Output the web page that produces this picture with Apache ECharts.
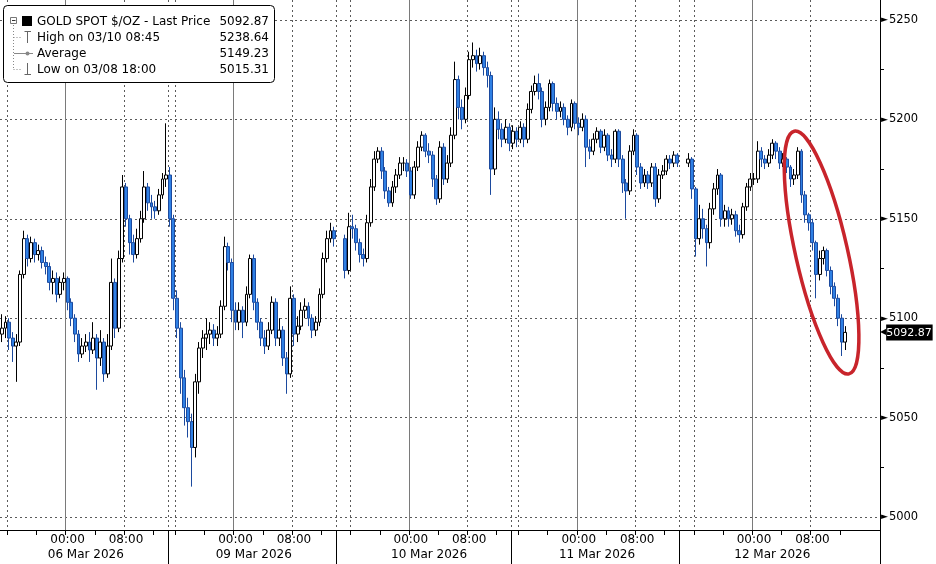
<!DOCTYPE html>
<html><head><meta charset="utf-8">
<script src="https://cdn.jsdelivr.net/npm/echarts@6/dist/echarts.min.js"></script>
<style>html,body{margin:0;padding:0;background:#fff}#c{width:936px;height:564px}</style>
</head><body><div id="c"></div>
<script>
// ---- sessions of 30-minute bars (chart local time), [first bar, number of slots]
const sessions = [
  ['2026-03-05 15:00', 46],
  ['2026-03-08 15:00', 48],
  ['2026-03-09 15:00', 46],
  ['2026-03-10 15:00', 48],
  ['2026-03-11 15:00', 44]
];
const padSlots = 9;
const firstOpen = 5092;

const closes = [
5095,5098,5090,5086,5088,5122,5140,5130,5138,5132,
5134,5128,5126,5118,5120,5112,5118,5120,5108,5100,
5092,5082,5086,5088,5084,5090,5080,5088,5072,5086,
5118,5095,5130,5166,5150,5138,5132,5140,5150,5166,
5158,5156,5154,5162,5170,5172,5150,5110,5095,5070,
5055,5048,5035,5068,5085,5090,5092,5094,5090,5092,
5106,5136,5128,5104,5098,5104,5098,5112,5130,5108,
5098,5090,5086,5094,5108,5090,5094,5080,5072,5110,
5092,5096,5104,5106,5100,5094,5098,5112,5130,5140,
5144,5140,null,null,5124,5146,5145,5138,5132,5130,
5148,5166,5180,5184,5174,5164,5158,5166,5172,5178,
5178,5174,5162,5176,5186,5192,5184,5182,5170,5160,
5186,5170,5178,5192,5220,5206,5200,5212,5230,5232,
5228,5232,5226,5222,5175,5200,5195,5190,5196,5188,
5194,5190,5196,5190,5205,5214,5218,5214,5200,5206,
5218,5208,5204,5206,5200,5196,5208,5198,5196,5200,
5186,5184,5190,5194,5186,5192,5182,5180,5194,5180,
5168,5164,5184,5192,5176,5168,5172,5168,5176,5160,
5172,5174,5180,5178,5182,5178,null,null,5180,5165,
5140,5150,5145,5138,5155,5165,5172,5150,5154,5150,
5152,5144,5142,5156,5166,5170,5170,5184,5180,5178,
5182,5188,5184,5178,5180,5176,5170,5172,5184,5162,
5152,5148,5138,5122,5130,5134,5124,5116,5110,5100,
5088,5092.87
];
const highs = [
5102,5101,5100,5093,5092,5124,5144,5142,5141,5140,
5137,5136,5131,5128,5124,5123,5121,5123,5121,5110,
5102,5094,5090,5092,5093,5098,5092,5094,5090,5092,
5130,5120,5134,5172,5168,5152,5142,5145,5154,5174,
5168,5162,5159,5165,5173,5198,5176,5152,5114,5098,
5074,5060,5052,5072,5088,5094,5100,5098,5097,5096,
5109,5141,5138,5130,5108,5108,5106,5116,5132,5132,
5110,5100,5094,5098,5111,5110,5100,5096,5083,5116,
5112,5101,5108,5110,5108,5102,5101,5115,5133,5144,
5148,5146,null,null,5142,5153,5152,5147,5140,5135,
5152,5170,5184,5186,5186,5176,5166,5169,5175,5181,
5181,5180,5176,5179,5189,5194,5193,5188,5184,5172,
5189,5188,5182,5196,5229,5222,5210,5216,5234,5238.64,
5235,5236,5234,5229,5224,5206,5204,5198,5200,5198,
5197,5196,5199,5198,5208,5217,5222,5223,5216,5209,
5220,5219,5211,5209,5208,5202,5210,5209,5201,5203,
5202,5190,5193,5196,5195,5195,5193,5185,5195,5195,
5182,5170,5187,5195,5193,5178,5175,5174,5178,5178,
5175,5177,5182,5182,5184,5183,null,null,5183,5181,
5166,5157,5155,5147,5158,5168,5175,5173,5157,5156,
5155,5154,5147,5158,5168,5173,5173,5189,5186,5182,
5185,5190,5189,5186,5183,5181,5177,5175,5186,5185,
5164,5153,5150,5139,5134,5136,5135,5126,5118,5112,
5102,5096
];
const lows = [
5088,5090,5084,5078,5068,5086,5120,5126,5128,5128,
5129,5125,5122,5114,5112,5108,5110,5114,5104,5096,
5088,5078,5080,5083,5078,5082,5064,5076,5068,5070,
5084,5090,5093,5128,5146,5132,5128,5130,5138,5148,
5154,5150,5150,5152,5160,5166,5146,5104,5090,5062,
5046,5040,5015.31,5030,5062,5080,5084,5087,5086,5086,
5090,5104,5124,5098,5094,5094,5090,5096,5110,5104,
5094,5086,5082,5084,5092,5086,5086,5076,5062,5070,
5086,5088,5094,5100,5096,5090,5091,5096,5110,5128,
5138,5136,null,null,5120,5122,5140,5134,5128,5126,
5128,5146,5164,5178,5170,5160,5156,5156,5163,5170,
5174,5171,5160,5160,5174,5184,5181,5178,5166,5157,
5158,5167,5168,5176,5190,5200,5195,5198,5210,5226,
5224,5225,5222,5216,5162,5172,5190,5186,5188,5184,
5185,5186,5188,5186,5188,5203,5212,5210,5196,5197,
5204,5204,5200,5201,5197,5192,5194,5195,5192,5194,
5176,5180,5182,5188,5183,5184,5179,5176,5178,5176,
5163,5150,5162,5182,5172,5165,5166,5165,5166,5156,
5158,5170,5172,5175,5176,5176,null,null,5176,5160,
5131,5137,5140,5126,5135,5152,5162,5146,5146,5146,
5147,5141,5138,5140,5154,5164,5167,5168,5176,5175,
5176,5180,5180,5175,5176,5173,5166,5167,5170,5158,
5148,5144,5134,5110,5119,5127,5121,5112,5106,5096,
5081,5084
];

const legendRows = ['GOLD SPOT $/OZ - Last Price', 'High on 03/10 08:45', 'Average', 'Low on 03/08 18:00'];
const legendValues = ['5092.87', '5238.64', '5149.23', '5015.31'];
// annotation ring: ends of its long axis in data coordinates [slot, price]
const ringTop = [217, 5194];
const ringBottom = [232, 5072];

const MONTHS = ['Jan','Feb','Mar','Apr','May','Jun','Jul','Aug','Sep','Oct','Nov','Dec'];
const FONT = 'DejaVu Sans';
const p2 = n => (n < 10 ? '0' : '') + n;
function fmt(t) {
  const d = new Date(t);
  return d.getUTCFullYear() + '-' + p2(d.getUTCMonth() + 1) + '-' + p2(d.getUTCDate()) + ' ' + p2(d.getUTCHours()) + ':' + p2(d.getUTCMinutes());
}
const cats = [];
const sessionStart = new Set();
sessions.forEach(([start, n]) => {
  let t = Date.parse(start.replace(' ', 'T') + ':00Z');
  sessionStart.add(cats.length);
  for (let k = 0; k < n; k++) { cats.push(fmt(t)); t += 30 * 60000; }
});
for (let k = 0; k < padSlots; k++) cats.push('');
const hm = v => (v ? v.slice(11) : '');
const dateLabel = v => { const [y, m, d] = v.slice(0, 10).split('-'); return d + ' ' + MONTHS[+m - 1] + ' ' + y; };
const sepSet = new Set();
cats.forEach((v, i) => {
  if (!v) return;
  if (hm(v) === '14:00') sepSet.add(i);
  else if (sessionStart.has(i) && i > 0 && hm(cats[i - 1]) !== '14:30') sepSet.add(i);
});
const isFourHour = v => { if (!v) return false; const h = +v.slice(11, 13), m = v.slice(14); return m === '00' && h % 4 === 0; };

let prev = firstOpen;
const ohlc = closes.map((c, i) => {
  if (c == null) return '-';
  const o = prev; prev = c;
  return [o, c, lows[i], highs[i]];
});
const lastClose = closes[closes.length - 1];

const rowY = [21.5, 37.5, 53.5, 69.5];
const graphics = [
  { id: 'box', type: 'rect', z: 100, shape: { x: 3.5, y: 5.5, width: 271, height: 77, r: 4 }, style: { fill: '#fff', stroke: '#000', lineWidth: 1 } },
  { id: 'tv', type: 'line', z: 101, shape: { x1: 13.5, y1: 25, x2: 13.5, y2: 69.5 }, style: { stroke: '#888', lineWidth: 1, lineDash: [1, 2] } },
  { id: 'th2', type: 'line', z: 101, shape: { x1: 13.5, y1: 37.5, x2: 21, y2: 37.5 }, style: { stroke: '#888', lineWidth: 1, lineDash: [1, 2] } },
  { id: 'th4', type: 'line', z: 101, shape: { x1: 13.5, y1: 69.5, x2: 21, y2: 69.5 }, style: { stroke: '#888', lineWidth: 1, lineDash: [1, 2] } },
  { id: 'coll', type: 'rect', z: 101, shape: { x: 10.5, y: 17.5, width: 6, height: 6 }, style: { fill: '#fff', stroke: '#777', lineWidth: 1 } },
  { id: 'collm', type: 'line', z: 102, shape: { x1: 12, y1: 20.5, x2: 15.5, y2: 20.5 }, style: { stroke: '#333', lineWidth: 1 } },
  { id: 'sq', type: 'rect', z: 101, shape: { x: 22, y: 16, width: 10, height: 10 }, style: { fill: '#000' } },
  { id: 'hiv', type: 'line', z: 101, shape: { x1: 27.5, y1: 31, x2: 27.5, y2: 43 }, style: { stroke: '#666', lineWidth: 1 } },
  { id: 'hih', type: 'line', z: 101, shape: { x1: 24.5, y1: 31.5, x2: 31, y2: 31.5 }, style: { stroke: '#666', lineWidth: 1 } },
  { id: 'avl', type: 'line', z: 101, shape: { x1: 14, y1: 53.5, x2: 33, y2: 53.5 }, style: { stroke: '#888', lineWidth: 1 } },
  { id: 'avc', type: 'circle', z: 102, shape: { cx: 27.5, cy: 53.5, r: 2 }, style: { fill: '#888' } },
  { id: 'lov', type: 'line', z: 101, shape: { x1: 27.5, y1: 63, x2: 27.5, y2: 75 }, style: { stroke: '#666', lineWidth: 1 } },
  { id: 'loh', type: 'line', z: 101, shape: { x1: 24.5, y1: 74.5, x2: 31, y2: 74.5 }, style: { stroke: '#666', lineWidth: 1 } }
];
legendRows.forEach((t, k) => {
  graphics.push({ id: 'lt' + k, type: 'text', z: 103, x: 37, y: rowY[k],
    style: { text: t, fill: '#000', font: '12px "' + FONT + '"', textVerticalAlign: 'middle', verticalAlign: 'middle' } });
  graphics.push({ id: 'lv' + k, type: 'text', z: 103, x: 269, y: rowY[k],
    style: { text: legendValues[k], fill: '#000', font: '12px "' + FONT + '"', textAlign: 'right', align: 'right', textVerticalAlign: 'middle', verticalAlign: 'middle' } });
});

const option = {
  animation: false,
  backgroundColor: '#fff',
  grid: { left: 0, right: 56, top: 0, bottom: 34, containLabel: false },
  xAxis: [
    {
      type: 'category', data: cats, boundaryGap: true, position: 'bottom',
      axisLine: { show: true, onZero: false, lineStyle: { color: '#000', width: 1 } },
      axisTick: { show: true, interval: (i, v) => isFourHour(cats[i]), length: 5, lineStyle: { color: '#000' } },
      axisLabel: { show: true, interval: (i, v) => { const s = hm(cats[i]); return s === '00:00' || s === '08:00'; },
        formatter: v => hm(v), color: '#000', fontFamily: FONT, fontSize: 12, margin: 4 },
      splitLine: { show: true, interval: (i, v) => hm(cats[i]) === '00:00', lineStyle: { color: '#7a7a7a', width: 1, type: 'solid' } }
    },
    {
      type: 'category', data: cats, boundaryGap: true, position: 'bottom',
      axisLine: { show: false, onZero: false },
      axisTick: { show: true, interval: (i) => sepSet.has(i), length: 34, lineStyle: { color: '#000' } },
      axisLabel: { show: true, interval: (i, v) => hm(cats[i]) === '02:30', formatter: v => (v ? dateLabel(v) : ''),
        color: '#000', fontFamily: FONT, fontSize: 12, margin: 19 },
      splitLine: { show: true, interval: (i, v) => { const s = hm(cats[i]); return sepSet.has(i) || s === '08:00' || s === '16:00'; },
        lineStyle: { color: '#5a5a5a', width: 1, type: [2, 3] } }
    }
  ],
  yAxis: {
    type: 'value', position: 'right', min: 4993.5, max: 5260, splitNumber: 5, minInterval: 50, maxInterval: 50,
    axisLine: { show: true, lineStyle: { color: '#000', width: 1 } },
    axisTick: { show: false },
    minorTick: { show: true, splitNumber: 2, length: 4, lineStyle: { color: '#000' } },
    minorSplitLine: { show: false },
    axisLabel: { showMinLabel: false, showMaxLabel: false, margin: 1,
      formatter: v => '{t|\u25BA}{v|' + v + '}',
      rich: { t: { fontSize: 9, color: '#000', fontFamily: FONT }, v: { fontSize: 11.5, color: '#000', fontFamily: FONT, padding: [0, 0, 0, 1] } } },
    splitLine: { show: true, showMinLine: false, showMaxLine: false, lineStyle: { color: '#5a5a5a', width: 1, type: [2, 3] } }
  },
  series: [{
    type: 'candlestick', xAxisIndex: 0, yAxisIndex: 0, data: ohlc, barWidth: 3.4,
    itemStyle: { color: '#ffffff', color0: '#2f80e4', borderColor: '#000000', borderColor0: '#1c4a9e', borderWidth: 1 },
    markLine: {
      silent: true, symbol: ['none', 'none'], animation: false,
      lineStyle: { color: 'rgba(0,0,0,0)', width: 1, type: 'solid' },
      label: { show: true, position: 'end', distance: 0, opacity: 1,
        formatter: () => '{a|\u25C0}{b|' + lastClose.toFixed(2) + '}',
        rich: { a: { color: '#000', fontSize: 8, fontFamily: FONT },
                b: { color: '#fff', backgroundColor: '#000', fontSize: 11, fontFamily: FONT, padding: [3, 1, 2, 0] } } },
      emphasis: { disabled: true },
      data: [{ yAxis: lastClose }]
    }
  }],
  graphic: { elements: graphics }
};

const chart = echarts.init(document.getElementById('c'), null, { renderer: 'canvas' });
chart.setOption(option);

const pT = chart.convertToPixel({ xAxisIndex: 0, yAxisIndex: 0 }, ringTop);
const pB = chart.convertToPixel({ xAxisIndex: 0, yAxisIndex: 0 }, ringBottom);
const dx = pB[0] - pT[0], dy = pB[1] - pT[1];
chart.setOption({ graphic: { elements: [{
  id: 'ring', type: 'ellipse', z: 90,
  x: (pT[0] + pB[0]) / 2, y: (pT[1] + pB[1]) / 2,
  rotation: Math.atan2(dx, dy),
  shape: { cx: 0, cy: 0, rx: 26, ry: Math.hypot(dx, dy) / 2 },
  style: { fill: 'none', stroke: '#c8242b', lineWidth: 3.5 }
}] } });
</script>
</body></html>
